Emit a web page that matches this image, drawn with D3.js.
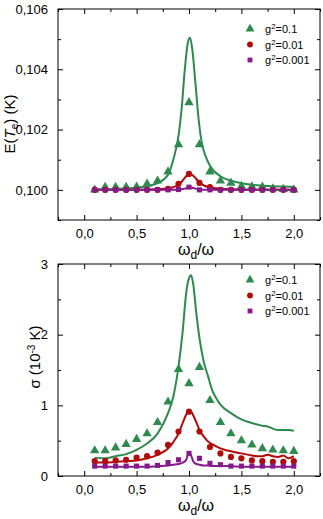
<!DOCTYPE html>
<html lang="en">
<head>
<meta charset="UTF-8" />
<title>E(Te) and sigma vs drive frequency</title>
<style>
  body { margin: 0; background: #fff; }
  svg { display: block; font-family: "Liberation Sans", Arial, sans-serif; }
  .frame { fill: none; stroke: #000; stroke-width: 1px; }
  .tick line { stroke: #000; }
  .tick text { font-size: 13px; fill: #000; }
  .legend text { font-size: 11px; fill: #000; }
  .curve { fill: none; stroke-width: 2px; }
</style>
</head>
<body>
<svg id="chart"></svg>
<script src="https://cdn.jsdelivr.net/npm/d3@7"></script>
<script>
// ---- data ----
const xs = [0.1, 0.2, 0.3, 0.4, 0.5, 0.6, 0.7, 0.8, 0.9, 1.0, 1.1, 1.2, 1.3, 1.4, 1.5, 1.6, 1.7, 1.8, 1.9, 2.0];
const seriesNames = ["g²=0.1", "g²=0.01", "g²=0.001"];
const colors = ["#2e8b4f", "#b00a0a", "#861a8c"];

// top panel: E(Te) markers
const meanG1  = [0.1000, 0.10009, 0.10009, 0.10009, 0.1001, 0.10020, 0.1003, 0.1006, 0.1015, 0.1029, 0.1015, 0.1006, 0.1003, 0.10023, 0.10012, 0.10011, 0.1001, 0.10004, 0.10002, 0.1000];
const meanG2  = [0.1000, 0.1000, 0.1000, 0.1000, 0.1000, 0.1000, 0.1000, 0.10003, 0.10020, 0.10053, 0.10023, 0.10009, 0.1000, 0.1000, 0.1000, 0.1000, 0.1000, 0.1000, 0.1000, 0.1000];
const meanG3  = [0.1000, 0.1000, 0.1000, 0.1000, 0.1000, 0.1000, 0.1000, 0.1000, 0.10001, 0.10009, 0.1000, 0.1000, 0.1000, 0.1000, 0.1000, 0.1000, 0.1000, 0.1000, 0.1000, 0.1000];

// top panel: E(Te) curves
const meanLineX  = [0.1, 0.3, 0.5, 0.6, 0.7, 0.8, 0.85, 0.9, 0.93, 0.96, 0.99, 1.01, 1.03, 1.06, 1.09, 1.12, 1.16, 1.2, 1.3, 1.4, 1.5, 1.6, 1.7, 1.8, 1.9, 2.0];
const meanLineG1 = [0.10001, 0.10003, 0.10007, 0.10012, 0.10022, 0.10050, 0.1010, 0.1018, 0.1027, 0.1040, 0.1049, 0.10505, 0.1047, 0.1036, 0.1024, 0.1016, 0.1011, 0.1008, 0.10045, 0.1003, 0.10022, 0.10017, 0.10014, 0.10012, 0.10011, 0.1001];
const meanLineG2 = [0.1000, 0.1000, 0.1000, 0.10001, 0.10002, 0.10005, 0.10009, 0.10017, 0.10027, 0.10040, 0.10051, 0.10053, 0.10050, 0.10040, 0.10028, 0.10019, 0.10012, 0.10008, 0.10004, 0.10002, 0.10001, 0.1000, 0.1000, 0.1000, 0.1000, 0.1000];
const meanLineG3 = [0.1000, 0.1000, 0.1000, 0.1000, 0.1000, 0.1000, 0.1000, 0.10001, 0.10002, 0.10004, 0.10008, 0.10009, 0.10007, 0.10004, 0.10002, 0.10001, 0.1000, 0.1000, 0.1000, 0.1000, 0.1000, 0.1000, 0.1000, 0.1000, 0.1000, 0.1000];

// bottom panel: sigma markers (10^-3 K)
const sdG1 = [0.36, 0.36, 0.40, 0.45, 0.52, 0.60, 0.76, 1.05, 1.51, 1.31, 1.54, 1.07, 0.76, 0.60, 0.50, 0.44, 0.39, 0.37, 0.36, 0.35];
const sdG2 = [0.21, 0.21, 0.22, 0.23, 0.26, 0.28, 0.33, 0.44, 0.63, 0.91, 0.63, 0.41, 0.32, 0.27, 0.25, 0.22, 0.21, 0.20, 0.20, 0.21];
const sdG3 = [0.14, 0.14, 0.14, 0.14, 0.14, 0.14, 0.15, 0.19, 0.23, 0.32, 0.25, 0.18, 0.16, 0.14, 0.14, 0.14, 0.14, 0.14, 0.14, 0.14];

// bottom panel: sigma curves
const sdLineX  = [0.1, 0.2, 0.3, 0.4, 0.5, 0.6, 0.7, 0.8, 0.85, 0.9, 0.94, 0.97, 1.0, 1.02, 1.04, 1.07, 1.1, 1.14, 1.18, 1.22, 1.26, 1.3, 1.4, 1.5, 1.6, 1.65, 1.7, 1.75, 1.8, 1.85, 1.9, 1.95, 2.0];
const sdLineG1 = [0.26, 0.25, 0.28, 0.31, 0.37, 0.46, 0.60, 0.89, 1.12, 1.55, 2.05, 2.55, 2.80, 2.84, 2.72, 2.30, 1.95, 1.62, 1.42, 1.22, 1.10, 1.01, 0.89, 0.80, 0.75, 0.73, 0.71, 0.70, 0.67, 0.65, 0.65, 0.65, 0.64];
const sdLineG2 = [0.19, 0.19, 0.20, 0.21, 0.22, 0.25, 0.30, 0.39, 0.48, 0.60, 0.75, 0.86, 0.92, 0.91, 0.86, 0.76, 0.65, 0.56, 0.49, 0.45, 0.42, 0.39, 0.35, 0.32, 0.29, 0.28, 0.28, 0.30, 0.28, 0.27, 0.29, 0.25, 0.28];
const sdLineG3 = [0.13, 0.13, 0.13, 0.13, 0.13, 0.13, 0.14, 0.15, 0.16, 0.17, 0.19, 0.22, 0.33, 0.29, 0.21, 0.17, 0.16, 0.15, 0.15, 0.14, 0.14, 0.14, 0.14, 0.13, 0.13, 0.13, 0.13, 0.13, 0.13, 0.13, 0.13, 0.13, 0.13];

const xTicks = [0.0, 0.5, 1.0, 1.5, 2.0];
const meanTicks = [0.100, 0.102, 0.104, 0.106];
const sdTicks = [0, 1, 2, 3];

// ---- layout ----
const W = 323, H = 519;
const svg = d3.select("#chart").attr("width", W).attr("height", H);

const x = d3.scaleLinear().domain([-0.25, 2.25]).range([58, 320]);

const panels = [
  {
    top: 9, bottom: 220, yDomain: [0.099, 0.106], ticks: meanTicks, minorStep: 0.001,
    fmt: d => d3.format(".3f")(d).replace(".", ","),
    marks: [meanG1, meanG2, meanG3], lineX: meanLineX, lines: [meanLineG1, meanLineG2, meanLineG3],
    legendY: 29, xLabelY: 255, yLabelPos: [15, 124], yLabel: "mean"
  },
  {
    top: 264, bottom: 476, yDomain: [0, 3], ticks: sdTicks, minorStep: 0.5,
    fmt: d => String(d),
    marks: [sdG1, sdG2, sdG3], lineX: sdLineX, lines: [sdLineG1, sdLineG2, sdLineG3],
    legendY: 280, xLabelY: 511, yLabelPos: [40, 357], yLabel: "sd"
  }
];

const markerSym = [d3.symbolTriangle, d3.symbolCircle, d3.symbolSquare];
const markerSize = [38, 30, 26];

panels.forEach(p => {
  const y = d3.scaleLinear().domain(p.yDomain).range([p.bottom, p.top]);
  const g = svg.append("g");
  const x0 = x.range()[0], x1 = x.range()[1];

  // minor tick values
  const xMinor = d3.range(-0.25, 2.26, 0.25).filter(v => Math.abs(v % 0.5) > 0.01);
  const yMinor = d3.range(p.yDomain[0], p.yDomain[1] + 1e-9, p.minorStep)
    .filter(v => !p.ticks.some(t => Math.abs(t - v) < 1e-9));

  // bottom axis with labels
  g.append("g")
    .attr("transform", `translate(0,${p.bottom})`)
    .call(d3.axisBottom(x).tickValues(xTicks).tickSize(-5).tickPadding(9).tickFormat(d => d3.format(".1f")(d).replace(".", ",")))
    .call(a => a.select(".domain").remove())
    .call(a => a.selectAll("text").style("font-size", "13px"));
  g.append("g").attr("transform", `translate(0,${p.bottom})`)
    .call(d3.axisBottom(x).tickValues(xMinor).tickSize(-3).tickFormat(""))
    .call(a => a.select(".domain").remove());
  // top mirror ticks
  g.append("g").attr("transform", `translate(0,${p.top})`)
    .call(d3.axisTop(x).tickValues(xTicks).tickSize(-5).tickFormat(""))
    .call(a => a.select(".domain").remove());
  g.append("g").attr("transform", `translate(0,${p.top})`)
    .call(d3.axisTop(x).tickValues(xMinor).tickSize(-3).tickFormat(""))
    .call(a => a.select(".domain").remove());

  // left axis with labels
  g.append("g").attr("transform", `translate(${x0},0)`)
    .call(d3.axisLeft(y).tickValues(p.ticks).tickSize(-5).tickPadding(10).tickFormat(p.fmt))
    .call(a => a.select(".domain").remove())
    .call(a => a.selectAll("text").style("font-size", "13px"));
  g.append("g").attr("transform", `translate(${x0},0)`)
    .call(d3.axisLeft(y).tickValues(yMinor).tickSize(-3).tickFormat(""))
    .call(a => a.select(".domain").remove());
  // right mirror ticks
  g.append("g").attr("transform", `translate(${x1},0)`)
    .call(d3.axisRight(y).tickValues(p.ticks).tickSize(-5).tickFormat(""))
    .call(a => a.select(".domain").remove());
  g.append("g").attr("transform", `translate(${x1},0)`)
    .call(d3.axisRight(y).tickValues(yMinor).tickSize(-3).tickFormat(""))
    .call(a => a.select(".domain").remove());

  g.append("rect").attr("class", "frame")
    .attr("x", x0).attr("y", p.top).attr("width", x1 - x0).attr("height", p.bottom - p.top);

  // curves
  const line = d3.line().x((d, i) => x(p.lineX[i])).y(d => y(d)).curve(d3.curveMonotoneX);
  p.lines.forEach((vals, k) => {
    g.append("path").attr("class", "curve")
      .attr("d", line(vals)).attr("stroke", colors[k]);
  });

  // markers
  p.marks.forEach((vals, k) => {
    g.selectAll(null).data(vals).enter().append("path")
      .attr("d", d3.symbol(markerSym[k], markerSize[k]))
      .attr("transform", (d, i) => `translate(${x(xs[i])},${y(d)})`)
      .attr("fill", colors[k]);
  });

  // legend
  const lg = g.append("g").attr("class", "legend");
  seriesNames.forEach((name, k) => {
    const ly = p.legendY + k * 15.5;
    lg.append("path")
      .attr("d", d3.symbol(markerSym[k], markerSize[k] * 0.9))
      .attr("transform", `translate(250,${ly})`)
      .attr("fill", colors[k]);
    const t = lg.append("text").attr("x", 265).attr("y", ly + 4);
    t.append("tspan").text("g");
    t.append("tspan").attr("dy", -4).style("font-size", "8px").text("2");
    t.append("tspan").attr("dy", 4).text(name.slice(2));
  });

  // x label
  const xl = g.append("text").attr("x", x(1.0) + 7).attr("y", p.xLabelY)
    .attr("text-anchor", "middle").style("font-size", "16px");
  xl.append("tspan").text("ω");
  xl.append("tspan").attr("dy", 4).style("font-size", "12px").text("d");
  xl.append("tspan").attr("dy", -4).text("/ω");

  // y label
  const yl = g.append("text")
    .attr("transform", `translate(${p.yLabelPos[0]},${p.yLabelPos[1]}) rotate(-90)`)
    .attr("text-anchor", "middle").style("font-size", "15px");
  if (p.yLabel === "mean") {
    yl.append("tspan").text("E(");
    yl.append("tspan").style("font-style", "italic").text("T");
    yl.append("tspan").attr("dy", 3).style("font-size", "10px").text("e");
    yl.append("tspan").attr("dy", -3).text(") (K)");
  } else {
    yl.append("tspan").text("σ (10");
    yl.append("tspan").attr("dy", -5).style("font-size", "10px").text("-3");
    yl.append("tspan").attr("dy", 5).text(" K)");
  }
});
</script>
</body>
</html>
